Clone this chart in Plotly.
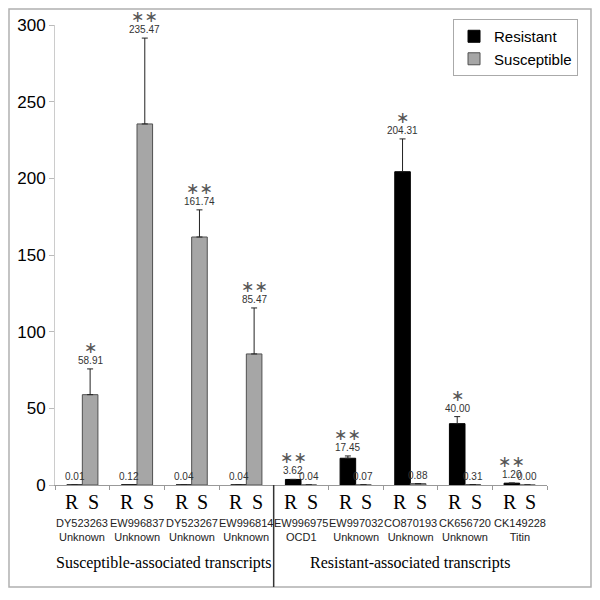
import plotly.graph_objects as go

accessions = ["DY523263", "EW996837", "DY523267", "EW996814", "EW996975",
              "EW997032", "CO870193", "CK656720", "CK149228"]
annotations_desc = ["Unknown", "Unknown", "Unknown", "Unknown", "OCD1",
                    "Unknown", "Unknown", "Unknown", "Titin"]
resistant = [0.01, 0.12, 0.04, 0.04, 3.62, 17.45, 204.31, 40.00, 1.20]
susceptible = [58.91, 235.47, 161.74, 85.47, 0.04, 0.07, 0.88, 0.31, 0.00]
resistant_err = [0, 0, 0, 0, 0, 1.5, 21.4, 4.6, 0]
susceptible_err = [16.8, 56.0, 17.7, 30.0, 0, 0, 0, 0, 0]
resistant_sig = ["", "", "", "", "**", "**", "*", "*", "**"]
susceptible_sig = ["*", "**", "**", "**", "", "", "", "", ""]
group_titles = ["Susceptible-associated transcripts", "Resistant-associated transcripts"]
yticks = [0, 50, 100, 150, 200, 250, 300]

BARGAP = 0.43
off = (1 - BARGAP) / 4
idx = list(range(len(accessions)))

fig = go.Figure()
fig.add_trace(go.Bar(
    x=idx, y=resistant, name="Resistant",
    marker=dict(color="black", line=dict(color="black", width=1)),
    error_y=dict(type="data", array=resistant_err, symmetric=False,
                 arrayminus=[0] * 9, color="#222", thickness=1, width=3),
))
fig.add_trace(go.Bar(
    x=idx, y=susceptible, name="Susceptible",
    marker=dict(color="#a6a6a6", line=dict(color="#505050", width=1)),
    error_y=dict(type="data", array=susceptible_err, symmetric=False,
                 arrayminus=[0] * 9, color="#222", thickness=1, width=3),
))

ann = []
valfont = dict(family="Liberation Sans, Arial", size=10, color="#333")
starfont = dict(family="DejaVu Sans", size=16, color="#555")
for i in idx:
    for vals, errs, sigs, dx in ((resistant, resistant_err, resistant_sig, -off),
                                 (susceptible, susceptible_err, susceptible_sig, off)):
        top = vals[i] + errs[i]
        ann.append(dict(x=i + dx, y=top, xref="x", yref="y", text=f"{vals[i]:.2f}",
                        showarrow=False, yanchor="bottom", yshift=1, font=valfont))
        if sigs[i]:
            ann.append(dict(x=i + dx, y=top, xref="x", yref="y",
                            text=sigs[i].replace("*", "∗"),
                            showarrow=False, yanchor="bottom", yshift=10, font=starfont))
    # R / S letters
    ann.append(dict(x=i, y=0, xref="x", yref="paper", text="R", showarrow=False,
                    xshift=-10, yshift=-4, yanchor="top",
                    font=dict(family="Liberation Serif", size=20, color="black")))
    ann.append(dict(x=i, y=0, xref="x", yref="paper", text="S", showarrow=False,
                    xshift=11, yshift=-4, yanchor="top",
                    font=dict(family="Liberation Serif", size=20, color="black")))
    ann.append(dict(x=i, y=0, xref="x", yref="paper",
                    text=accessions[i] + "<br>" + annotations_desc[i], showarrow=False,
                    yshift=-30, yanchor="top",
                    font=dict(family="Liberation Sans, Arial", size=11, color="#222")))

ann.append(dict(x=1.5, y=0, xref="x", yref="paper", text=group_titles[0], showarrow=False,
                yshift=-78, yanchor="middle",
                font=dict(family="Liberation Serif", size=16, color="black")))
ann.append(dict(x=6.0, y=0, xref="x", yref="paper", text=group_titles[1], showarrow=False,
                yshift=-78, yanchor="middle",
                font=dict(family="Liberation Serif", size=16, color="black")))

shapes = [
    dict(type="rect", xref="paper", yref="paper", x0=-0.0935, x1=1.0894,
         y0=-0.2217, y1=1.0348, line=dict(color="#b0b0b0", width=1.5)),
    dict(type="line", xref="x", yref="paper", x0=3.5, x1=3.5, y0=-0.2217, y1=0,
         line=dict(color="#333", width=1.5)),
]

fig.update_layout(
    width=600, height=600,
    margin=dict(l=47, r=61, t=17, b=123, autoexpand=False),
    paper_bgcolor="white", plot_bgcolor="white",
    barmode="group", bargap=BARGAP, bargroupgap=0,
    showlegend=True,
    legend=dict(x=0.809, y=1.013, xanchor="left", yanchor="top",
                bordercolor="#aaa", borderwidth=1, bgcolor="white",
                font=dict(family="Liberation Sans, Arial", size=15, color="black"),
                itemwidth=30, tracegroupgap=0),
    xaxis=dict(range=[-0.5, 8.5], tickvals=[i + 0.5 for i in range(-1, 9)],
               showticklabels=False, ticks="outside", ticklen=4, tickcolor="#999",
               showline=True, linecolor="#999", linewidth=1, showgrid=False, zeroline=False),
    yaxis=dict(range=[0, 300], tickvals=yticks, ticks="outside", ticklen=5, tickcolor="#bbb",
               showline=True, linecolor="#ccc", linewidth=1, showgrid=False, zeroline=False,
               tickfont=dict(family="Liberation Sans, Arial", size=17, color="black")),
    annotations=ann, shapes=shapes,
    font=dict(family="Liberation Sans, Arial"),
)

fig.write_html("out.html")
